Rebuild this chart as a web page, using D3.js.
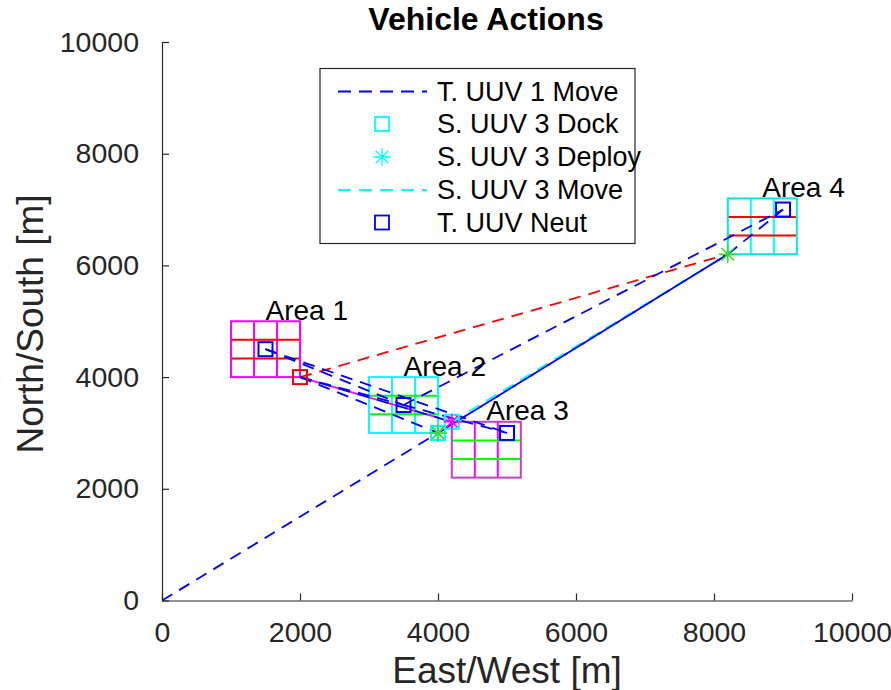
<!DOCTYPE html>
<html lang="en">
<head>
<meta charset="UTF-8" />
<title>Vehicle Actions</title>
<style>
  body { margin: 0; background: #fff; }
  text { font-family: "Liberation Sans", Arial, Helvetica, sans-serif; }
</style>
</head>
<body>
<div id="chart"></div>
<script src="https://d3js.org/d3.v7.min.js"></script>
<script>
const width = 891;
const height = 690;

// axis ticks
const xTicks = [0, 2000, 4000, 6000, 8000, 10000];
const yTicks = [0, 2000, 4000, 6000, 8000, 10000];

// search areas, lower-left corner in metres, each split 3x3
const areaNames = ["Area 1", "Area 2", "Area 3", "Area 4"];
const areaX = [1000, 3000, 4200, 8200];
const areaY = [4000, 3000, 2200, 6200];
const areaSize = 1000;
const areaLabelX = [1500, 3500, 4700, 8700];
const areaLabelY = [5200, 4200, 3400, 7400];

// T. UUV 1 move legs
const tuuvMove = [
  [[0, 0], [4000, 3000]],
  [[4000, 3000], [8200, 6200]],
  [[8200, 6200], [4000, 3000]],
  [[8200, 6200], [9000, 7000]],
  [[3500, 3500], [9000, 7000]],
  [[1500, 4500], [3500, 3500]],
  [[1500, 4500], [5000, 3000]],
  [[3500, 3500], [5000, 3000]],
  [[2000, 4000], [4200, 3200]],
  [[2000, 4000], [4000, 3000]],
  [[2000, 4000], [3500, 3500]]
];
// S. UUV 3 move legs
const suuv3Move = [
  [[4200, 3200], [8200, 6200]]
];
// other support vehicles
const suuv1Move = [[[2000, 4000], [8200, 6200]]];
const suuv2Move = [[[2000, 4000], [4200, 3200]]];

// markers
const tuuvNeut = [[1500, 4500], [3500, 3500], [5000, 3000], [9000, 7000]];
const suuv3Dock = [[4200, 3200], [4000, 3000]];
const suuv3Deploy = [[4000, 3000]];
const suuv1Dock = [[2000, 4000]];
const suuv2Dock = [[4000, 3000]];
const suuv2Deploy = [[4000, 3000], [8200, 6200]];
const suuvMagDeploy = [[4200, 3200]];

const legendLabels = ["T. UUV 1 Move", "S. UUV 3 Dock", "S. UUV 3 Deploy", "S. UUV 3 Move", "T. UUV Neut"];

const svg = d3.select("#chart")
  .append("svg")
  .attr("width", width)
  .attr("height", height);

const x = d3.scaleLinear().domain([0, 10000]).range([162, 852]);
const y = d3.scaleLinear().domain([0, 10000]).range([600.5, 42]);

// areas
const areaBorder = ["#ff00ff", "#00ffff", "#c83cc8", "#00e8e8"];
const areaCols = ["#ff00ff", "#00ffff", "#ff00ff", "#00ffff"];
const areaRows = ["#ff0000", "#00ff00", "#00ff00", "#ff0000"];

const areas = svg.append("g")
  .selectAll("g")
  .data(areaNames)
  .join("g");

areas.each(function (name, i) {
  const g = d3.select(this);
  const x0 = areaX[i], y0 = areaY[i];
  for (let k = 1; k < 3; k++) {
    const v = x0 + areaSize * k / 3;
    g.append("line")
      .attr("x1", x(v)).attr("x2", x(v))
      .attr("y1", y(y0)).attr("y2", y(y0 + areaSize))
      .attr("stroke", areaCols[i]).attr("stroke-width", 2);
  }
  for (let k = 1; k < 3; k++) {
    const h = y0 + areaSize * k / 3;
    g.append("line")
      .attr("x1", x(x0)).attr("x2", x(x0 + areaSize))
      .attr("y1", y(h)).attr("y2", y(h))
      .attr("stroke", areaRows[i]).attr("stroke-width", 2);
  }
  g.append("rect")
    .attr("x", x(x0)).attr("y", y(y0 + areaSize))
    .attr("width", x(x0 + areaSize) - x(x0))
    .attr("height", y(y0) - y(y0 + areaSize))
    .attr("fill", "none")
    .attr("stroke", areaBorder[i]).attr("stroke-width", 2);
});

// paths
function drawLegs(legs, color, offset) {
  svg.append("g")
    .selectAll("line")
    .data(legs)
    .join("line")
    .attr("x1", d => x(d[0][0])).attr("y1", d => y(d[0][1]))
    .attr("x2", d => x(d[1][0])).attr("y2", d => y(d[1][1]))
    .attr("stroke", color)
    .attr("stroke-width", 1.8)
    .attr("stroke-dasharray", "12,8")
    .attr("stroke-dashoffset", offset || 0);
}

drawLegs(suuv3Move, "#00ffff", 0);
drawLegs(suuv1Move, "#ff0000", 0);
drawLegs(suuv2Move, "#ff00ff", 10);
drawLegs(tuuvMove, "#0000ff", 0);

// markers
function squares(pts, color, size) {
  svg.append("g")
    .selectAll("rect")
    .data(pts)
    .join("rect")
    .attr("x", d => x(d[0]) - size / 2)
    .attr("y", d => y(d[1]) - size / 2)
    .attr("width", size).attr("height", size)
    .attr("fill", "none")
    .attr("stroke", color)
    .attr("stroke-width", 2);
}

function starPath(cx, cy, r) {
  const q = r * 0.7;
  return `M${cx - r},${cy}h${2 * r}M${cx},${cy - r}v${2 * r}` +
    `M${cx - q},${cy - q}l${2 * q},${2 * q}M${cx - q},${cy + q}l${2 * q},${-2 * q}`;
}

function stars(pts, color, r, w) {
  svg.append("g")
    .selectAll("path")
    .data(pts)
    .join("path")
    .attr("d", d => starPath(x(d[0]), y(d[1]), r))
    .attr("fill", "none")
    .attr("stroke", color)
    .attr("stroke-width", w || 1.5);
}

squares(suuv2Dock, "#00ff00", 14);
squares(suuv3Dock, "#00ffff", 14);
stars(suuv3Deploy, "#00ffff", 9);
stars(suuv2Deploy, "#33dd33", 9);
stars(suuvMagDeploy, "#ff00ff", 8);
squares(suuv1Dock, "#ff0000", 14);
squares(tuuvNeut, "#0000ff", 14);

// area labels
svg.append("g")
  .selectAll("text")
  .data(areaNames)
  .join("text")
  .attr("x", (d, i) => x(areaLabelX[i]))
  .attr("y", (d, i) => y(areaLabelY[i]))
  .attr("dy", "0.35em")
  .attr("font-size", 28)
  .attr("fill", "#000")
  .text(d => d);

// axes
const xAxis = svg.append("g")
  .attr("transform", `translate(0,${y(0)})`)
  .call(d3.axisBottom(x).tickValues(xTicks).tickFormat(d3.format("d"))
    .tickSizeInner(-7).tickSizeOuter(0).tickPadding(21));
const yAxis = svg.append("g")
  .attr("transform", `translate(${x(0)},0)`)
  .call(d3.axisLeft(y).tickValues(yTicks).tickFormat(d3.format("d"))
    .tickSizeInner(-7).tickSizeOuter(0).tickPadding(23));

[xAxis, yAxis].forEach(a => {
  a.select(".domain").attr("stroke", "#262626").attr("stroke-width", 1.2);
  a.selectAll(".tick line").attr("stroke", "#262626").attr("stroke-width", 1.2);
  a.selectAll(".tick text")
    .attr("fill", "#262626")
    .attr("font-size", 28.5)
    .attr("font-family", "Liberation Sans, Arial, sans-serif");
});

// titles
svg.append("text")
  .attr("x", 486).attr("y", 30)
  .attr("text-anchor", "middle")
  .attr("font-size", 32)
  .attr("font-weight", "bold")
  .attr("fill", "#000")
  .text("Vehicle Actions");

svg.append("text")
  .attr("x", 507).attr("y", 683)
  .attr("text-anchor", "middle")
  .attr("font-size", 37)
  .attr("fill", "#262626")
  .text("East/West [m]");

svg.append("text")
  .attr("transform", "translate(43,324) rotate(-90)")
  .attr("text-anchor", "middle")
  .attr("font-size", 37)
  .attr("fill", "#262626")
  .text("North/South [m]");

// legend
const legend = svg.append("g");
legend.append("rect")
  .attr("x", 320).attr("y", 68.5)
  .attr("width", 315).attr("height", 175)
  .attr("fill", "#fff")
  .attr("stroke", "#262626")
  .attr("stroke-width", 1.2);

const legendY = [91.5, 124, 157, 190, 222.5];
const legendKind = ["line", "square", "star", "line", "square"];
const legendColor = ["#0000ff", "#00ffff", "#00ffff", "#00ffff", "#0000ff"];

legendLabels.forEach((label, i) => {
  const ly = legendY[i];
  if (legendKind[i] === "line") {
    legend.append("line")
      .attr("x1", 338).attr("x2", 427)
      .attr("y1", ly).attr("y2", ly)
      .attr("stroke", legendColor[i])
      .attr("stroke-width", 1.8)
      .attr("stroke-dasharray", "13,8");
  } else if (legendKind[i] === "square") {
    legend.append("rect")
      .attr("x", 382 - 7).attr("y", ly - 7)
      .attr("width", 14).attr("height", 14)
      .attr("fill", "none")
      .attr("stroke", legendColor[i])
      .attr("stroke-width", 1.8);
  } else {
    legend.append("path")
      .attr("d", starPath(382, ly, 9))
      .attr("fill", "none")
      .attr("stroke", legendColor[i])
      .attr("stroke-width", 1.3);
  }
  legend.append("text")
    .attr("x", 437).attr("y", ly)
    .attr("dy", "0.35em")
    .attr("font-size", 27)
    .attr("fill", "#000")
    .text(label);
});
</script>
</body>
</html>
